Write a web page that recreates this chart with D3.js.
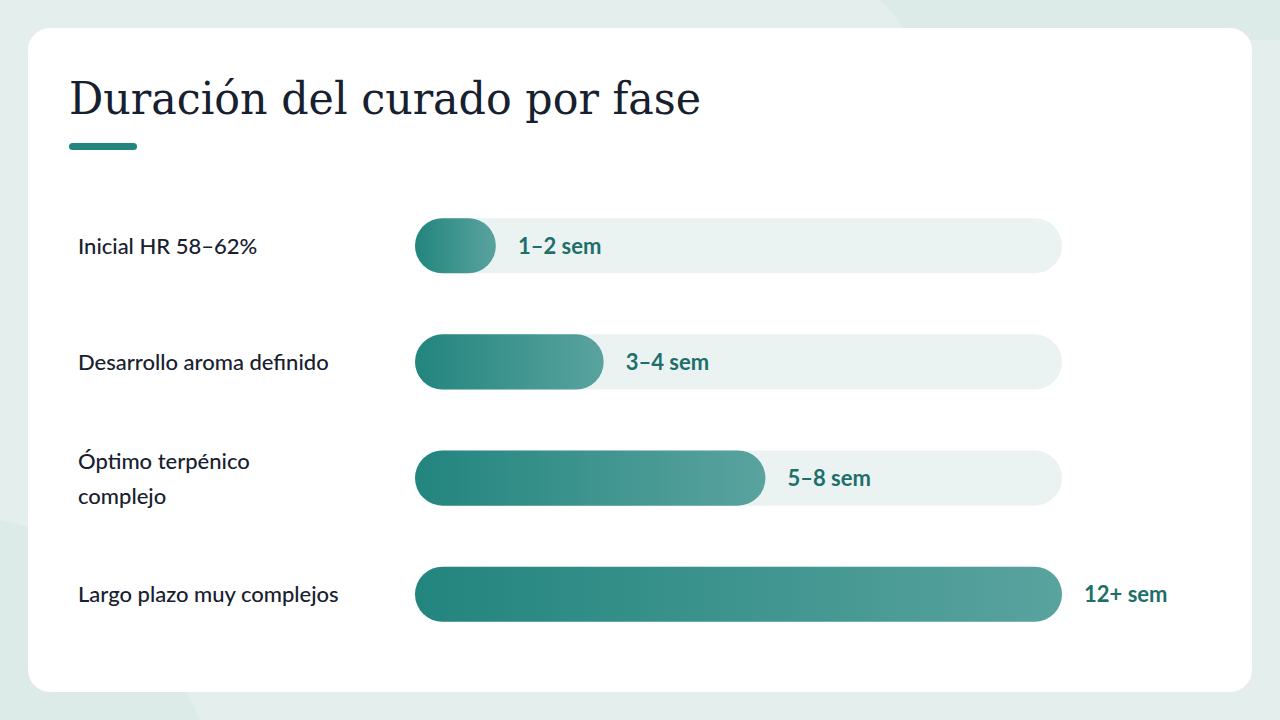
<!DOCTYPE html>
<html><head><meta charset="utf-8">
<script src="https://cdn.jsdelivr.net/npm/d3@7"></script>
<style>body{margin:0;background:#e4eeed;}svg{display:block}</style>
</head><body>
<svg id="c" width="1280" height="720"></svg>
<script>
const categories = [["Inicial HR 58–62%"],["Desarrollo aroma definido"],["Óptimo terpénico","complejo"],["Largo plazo muy complejos"]];
const values = [1.5, 3.5, 6.5, 12];
const valueLabels = ["1–2 sem","3–4 sem","5–8 sem","12+ sem"];
const maxWeeks = 12;

const svg = d3.select("#c");
const defs = svg.append("defs");
const g = defs.append("linearGradient").attr("id","bg").attr("x1","0").attr("x2","1");
g.append("stop").attr("offset","0").attr("stop-color","#22857e");
g.append("stop").attr("offset","1").attr("stop-color","#5aa39f");

svg.append("rect").attr("width",1280).attr("height",720).attr("fill","#e4eeed");
svg.append("path").attr("d","M880,0 Q900,20 910,40 L1280,40 L1280,0Z").attr("fill","#dceae8");
svg.append("path").attr("d","M0,520 Q120,540 200,720 L0,720Z").attr("fill","#dceae8");
svg.append("rect").attr("x",28).attr("y",28).attr("width",1224).attr("height",664).attr("rx",22).attr("fill","#ffffff");

svg.append("text").attr("x",69).attr("y",114).attr("font-family","'DejaVu Serif', serif")
  .attr("font-size",44).attr("fill","#17202e").attr("textLength",632).attr("lengthAdjust","spacingAndGlyphs")
  .text("Duración del curado por fase");
svg.append("rect").attr("x",69).attr("y",143).attr("width",68).attr("height",7).attr("rx",3.5).attr("fill","#22857e");

const x = d3.scaleLinear().domain([0,maxWeeks]).range([415,1062]);
const y = d3.scaleBand().domain(d3.range(values.length)).range([188,652]).paddingInner(0.525).paddingOuter(0.26);
const h = y.bandwidth();

values.forEach((v,i)=>{
  const yy = y(i);
  svg.append("rect").attr("x",x(0)).attr("y",yy).attr("width",x(maxWeeks)-x(0)).attr("height",h).attr("rx",h/2).attr("fill","#ebf3f2");
  svg.append("rect").attr("x",x(0)).attr("y",yy).attr("width",x(v)-x(0)).attr("height",h).attr("rx",h/2).attr("fill","url(#bg)");
  svg.append("text").attr("x",x(v)+22).attr("y",yy+h/2+8).attr("font-family","Lato, sans-serif").attr("font-weight",700)
    .attr("font-size",22).attr("fill","#1e6f6a").text(valueLabels[i]);
  const lines = categories[i];
  const t = svg.append("text").attr("font-family","Lato, sans-serif").attr("font-size",22).attr("font-weight",500).attr("fill","#17202e");
  lines.forEach((l,j)=>{
    t.append("tspan").attr("x",78).attr("y",yy+h/2+8+(j-(lines.length-1)/2)*35).text(l);
  });
});
</script>
</body></html>
